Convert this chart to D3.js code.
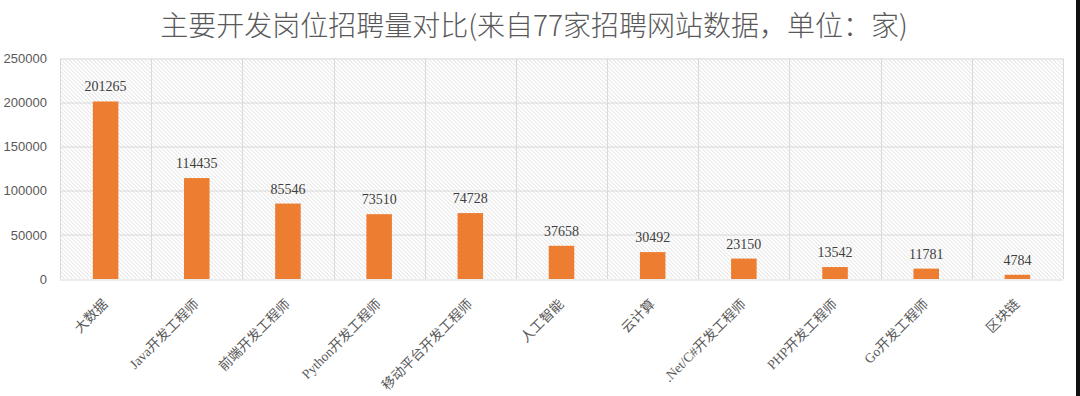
<!DOCTYPE html>
<html>
<head>
<meta charset="utf-8">
<script src="https://cdn.jsdelivr.net/npm/d3@7"></script>
<style>
  body { margin: 0; background: #fff; }
  svg { display: block; }
</style>
</head>
<body>
<svg width="1080" height="396"></svg>
<script>
var titleText = "主要开发岗位招聘量对比(来自77家招聘网站数据，单位：家)";
var categories = ["大数据", "Java开发工程师", "前端开发工程师", "Python开发工程师", "移动平台开发工程师",
    "人工智能", "云计算", ".Net/C#开发工程师", "PHP开发工程师", "Go开发工程师", "区块链"];
var jobCounts = [201265, 114435, 85546, 73510, 74728, 37658, 30492, 23150, 13542, 11781, 4784];
var yTicks = [0, 50000, 100000, 150000, 200000, 250000];

var svg = d3.select("svg"),
    margin = {top: 58.5, right: 17, bottom: 117, left: 60},
    width = +svg.attr("width") - margin.left - margin.right,
    height = +svg.attr("height") - margin.top - margin.bottom;

// hatch fill for plot area
var defs = svg.append("defs");
defs.append("pattern")
    .attr("id", "hatch")
    .attr("patternUnits", "userSpaceOnUse")
    .attr("width", 4)
    .attr("height", 4)
  .append("path")
    .attr("d", "M0,0 L4,4 M-1,3 L1,5 M3,-1 L5,1")
    .attr("stroke", "#dcdcdc")
    .attr("stroke-width", 1);

svg.append("text")
    .attr("x", 534)
    .attr("y", 36)
    .attr("text-anchor", "middle")
    .attr("font-family", "'Noto Sans CJK SC', sans-serif")
    .attr("font-weight", 300)
    .attr("font-size", 28)
    .attr("fill", "#595959")
    .text(titleText);

var x = d3.scaleBand().domain(categories).range([0, width]).paddingInner(0).paddingOuter(0);
var y = d3.scaleLinear().domain([0, 250000]).range([height, 0]);

var g = svg.append("g")
    .attr("transform", "translate(" + margin.left + "," + margin.top + ")");

g.append("rect")
    .attr("width", width)
    .attr("height", height)
    .attr("fill", "url(#hatch)");

// horizontal gridlines
g.append("g")
    .selectAll("line")
    .data(yTicks)
    .enter().append("line")
    .attr("x1", 0).attr("x2", width)
    .attr("y1", function(d){ return Math.round(y(d)) + 0.5; })
    .attr("y2", function(d){ return Math.round(y(d)) + 0.5; })
    .attr("stroke", "#d9d9d9");

// vertical gridlines at band edges
var edges = categories.map(function(c){ return x(c); }).concat([width]);
g.append("g")
    .selectAll("line")
    .data(edges)
    .enter().append("line")
    .attr("x1", function(d){ return Math.round(d) + 0.5; })
    .attr("x2", function(d){ return Math.round(d) + 0.5; })
    .attr("y1", 0).attr("y2", height)
    .attr("stroke", "#d9d9d9");

// y axis labels
var yAxis = d3.axisLeft(y).tickValues(yTicks).tickFormat(d3.format("d")).tickSize(0).tickPadding(13);
var yg = g.append("g").call(yAxis);
yg.select(".domain").remove();
yg.selectAll("text")
    .attr("font-family", "'Liberation Sans', Arial, sans-serif")
    .attr("font-size", 13)
    .attr("fill", "#595959");

// bars
var barW = x.bandwidth() * 0.28;
g.selectAll(".bar")
    .data(jobCounts)
    .enter().append("rect")
    .attr("class", "bar")
    .attr("x", function(d, i){ return x(categories[i]) + x.bandwidth() / 2 - barW / 2; })
    .attr("y", function(d){ return y(d); })
    .attr("width", barW)
    .attr("height", function(d){ return height - y(d); })
    .attr("fill", "#ed7d31");

// value labels
g.selectAll(".val")
    .data(jobCounts)
    .enter().append("text")
    .attr("class", "val")
    .attr("x", function(d, i){ return x(categories[i]) + x.bandwidth() / 2; })
    .attr("y", function(d){ return y(d) - 10; })
    .attr("text-anchor", "middle")
    .attr("font-family", "'Liberation Serif', 'Times New Roman', serif")
    .attr("font-size", 14)
    .attr("fill", "#404040")
    .text(function(d){ return d; });

// x axis labels, rotated
var xAxis = d3.axisBottom(x).tickSize(0).tickPadding(0);
var xg = g.append("g")
    .attr("transform", "translate(0," + height + ")")
    .call(xAxis);
xg.select(".domain").remove();
xg.selectAll("text")
    .attr("font-family", "'Liberation Serif', 'Noto Sans CJK SC', serif")
    .attr("font-size", 13.5)
    .attr("fill", "#595959")
    .attr("text-anchor", "end")
    .attr("dy", null)
    .attr("y", 0)
    .attr("transform", "translate(3,26) rotate(-45)");

// dark strip on the right edge
svg.append("rect")
    .attr("x", 1076)
    .attr("y", 0)
    .attr("width", 4)
    .attr("height", 396)
    .attr("fill", "#111");
</script>
</body>
</html>
